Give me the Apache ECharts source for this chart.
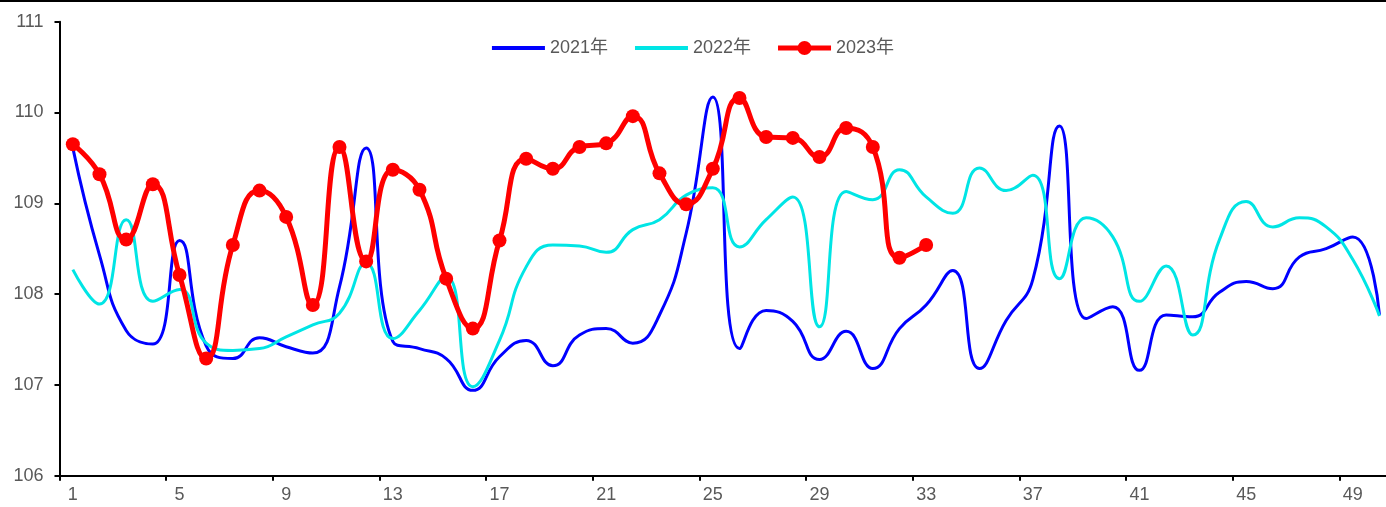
<!DOCTYPE html>
<html>
<head>
<meta charset="utf-8">
<script src="https://cdn.jsdelivr.net/npm/echarts@6/dist/echarts.min.js"></script>
<style>html,body{margin:0;padding:0;background:#fff}#c{width:1386px;height:507px}</style>
</head>
<body>
<div id="c"></div>
<script>
const categories = Array.from({length: 50}, (_, i) => String(i + 1));
const seriesNames = ['2021年', '2022年', '2023年'];
const values2021 = [109.61,108.43,107.60,107.45,108.59,107.43,107.29,107.52,107.42,107.35,
  108.08,109.61,107.48,107.40,107.29,106.94,107.31,107.49,107.21,107.55,
  107.62,107.46,107.77,108.67,110.17,107.40,107.82,107.70,107.28,107.59,
  107.18,107.62,107.88,108.26,107.18,107.71,108.16,109.85,107.73,107.86,
  107.16,107.77,107.75,108.02,108.14,108.06,108.41,108.50,108.63,107.77];
const values2022 = [108.27,107.89,108.82,107.92,108.05,107.46,107.38,107.40,107.53,107.66,
  107.79,108.34,107.51,107.82,108.19,106.98,107.49,108.30,108.54,108.53,
  108.46,108.71,108.82,109.09,109.17,108.52,108.82,109.07,107.64,109.13,
  109.04,109.37,109.07,108.89,109.39,109.14,109.31,108.17,108.84,108.63,
  107.92,108.31,107.55,108.60,109.02,108.74,108.84,108.74,108.38,107.76];
const values2023 = [109.65,109.32,108.60,109.21,108.21,107.29,108.54,109.14,108.85,107.88,
  109.62,108.36,109.37,109.15,108.17,107.62,108.59,109.49,109.38,109.62,
  109.66,109.96,109.33,108.99,109.38,110.16,109.73,109.72,109.51,109.83,
  109.62,108.40,108.54];
const yTicks = [106, 107, 108, 109, 110, 111];

const FONT = 'Arial, "Liberation Sans", "Noto Sans CJK SC", sans-serif';
const lineIcon = 'path://M0,5L53,5L53,9L0,9Z';
const dotIcon = 'path://M0,4.5L21,4.5L21,9.5L0,9.5Z M32,4.5L53,4.5L53,9.5L32,9.5Z M19.5,7A7,7 0 1,1 33.5,7A7,7 0 1,1 19.5,7Z';
const chart = echarts.init(document.getElementById('c'), null, {renderer: 'canvas'});
chart.setOption({
  animation: false,
  backgroundColor: '#fff',
  textStyle: {fontFamily: FONT},
  graphic: [{type: 'rect', shape: {x: 0, y: 0, width: 1386, height: 2}, style: {fill: '#000'}}],
  legend: {
    top: 34, left: 'center', itemWidth: 53, itemHeight: 14, itemGap: 27,
    textStyle: {fontSize: 18, color: '#595959', fontFamily: FONT},
    data: [
      {name: seriesNames[0], icon: lineIcon},
      {name: seriesNames[1], icon: lineIcon},
      {name: seriesNames[2], icon: dotIcon}
    ]
  },
  grid: {left: 59.5, width: 1333.3, top: 21.7, bottom: 31.3, containLabel: false, outerBoundsMode: 'none'},
  xAxis: {
    type: 'category', data: categories, boundaryGap: true,
    axisLine: {lineStyle: {color: '#000', width: 2}},
    axisTick: {show: true, interval: 3, length: 5, lineStyle: {color: '#000', width: 2}},
    axisLabel: {interval: 3, fontSize: 18, color: '#595959', margin: 10, fontFamily: FONT},
    splitLine: {show: false}
  },
  yAxis: {
    type: 'value', min: yTicks[0], max: yTicks[yTicks.length - 1], interval: 1,
    axisLine: {show: true, lineStyle: {color: '#000', width: 2}},
    axisTick: {show: true, length: 5, lineStyle: {color: '#000', width: 2}},
    axisLabel: {fontSize: 18, color: '#595959', margin: 16, fontFamily: FONT},
    splitLine: {show: false}
  },
  series: [
    {name: seriesNames[0], type: 'line', data: values2021, smooth: 0.5, showSymbol: false, symbol: 'none',
      lineStyle: {color: '#0000FF', width: 3}, itemStyle: {color: '#0000FF'}},
    {name: seriesNames[1], type: 'line', data: values2022, smooth: 0.5, showSymbol: false, symbol: 'none',
      lineStyle: {color: '#00E5E5', width: 3}, itemStyle: {color: '#00E5E5'}},
    {name: seriesNames[2], type: 'line', data: values2023, smooth: 0.5, symbol: 'circle', symbolSize: 14, showSymbol: true,
      lineStyle: {color: '#FF0000', width: 5}, itemStyle: {color: '#FF0000'}, z: 5}
  ]
});
</script>
</body>
</html>
